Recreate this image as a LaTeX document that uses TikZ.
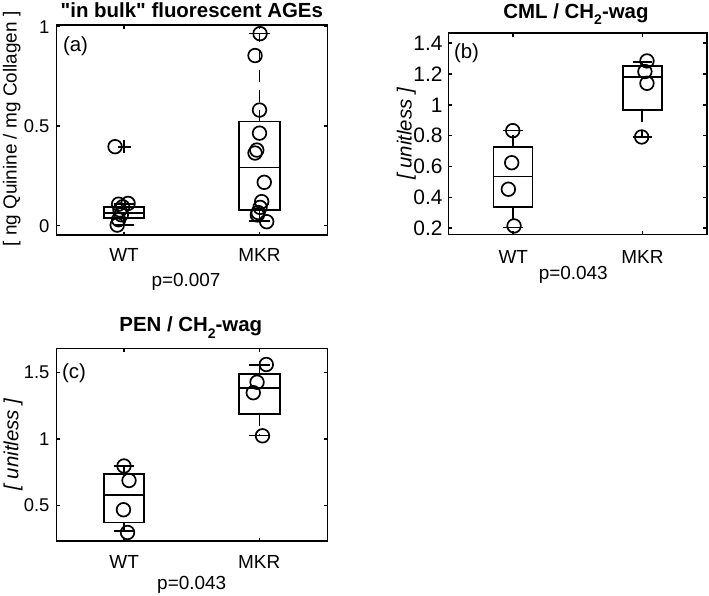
\documentclass[tikz,border=0pt]{standalone}
\usepackage{fontspec}
\setmainfont{Liberation Sans}
\newcommand{\bxplot}[6]{%
  \draw[whisk] (#1,#3) -- (#1,#2);
  \draw[whisk] (#1,#5) -- (#1,#6);
  \draw (#1-0.075,#2) -- (#1+0.075,#2) (#1-0.075,#6) -- (#1+0.075,#6);
  \draw (#1-0.15,#3) rectangle (#1+0.15,#5) (#1-0.15,#4) -- (#1+0.15,#4);
}
\newcommand{\axframe}[3]{%
  \draw[axline] (0.5,#1) rectangle (2.5,#2);
  \foreach \t in {#3} \draw[axline] (0.5,\t) -- ++(3.5bp,0) (2.5,\t) -- ++(-3.5bp,0);
  \foreach \t in {1,2} \draw[axline] (\t,#1) -- ++(0,3.5bp) (\t,#2) -- ++(0,-3.5bp);
}
\newcommand{\subtwo}{\raisebox{-6.5bp}{\fontsize{14}{14}\selectfont 2}}
\begin{document}
\begin{tikzpicture}[x=1bp,y=1bp,line width=1.7bp,
    font=\fontsize{19}{22}\selectfont,
    whisk/.style={dash pattern=on 12bp off 8bp},
    axline/.style={line width=1.5bp},
    ticklab/.style={anchor=east,inner sep=0pt,xshift=-6bp,font=\fontsize{18.5}{22}\selectfont},
    lab/.style={anchor=base,inner sep=0pt},
    plab/.style={anchor=base,inner sep=0pt,font=\fontsize{20.5}{24}\selectfont},
    ttl/.style={anchor=base,inner sep=0pt,font=\fontsize{20.5}{24}\selectfont\bfseries},
    ylab/.style={anchor=base,inner sep=0pt,rotate=90}]
    \useasboundingbox (0,0) rectangle (709,596);

    \begin{scope}[xshift=-11.5bp,yshift=370.3bp,x=135.5bp,y=199bp]
        \axframe{-0.047}{1.008}{0,0.5,1}
        \foreach \t/\l [count=\k] in {0/0,0.5/0.5,1/1} \node[ticklab] (ya\k) at (0.5,\t) {\l};
        \bxplot{1}{0.003}{0.037}{0.065}{0.095}{0.11}
        \bxplot{2}{0.022}{0.079}{0.293}{0.523}{0.965}
        \draw (1,0.397) +(-6.5bp,0) -- +(6.5bp,0) +(0,-6.5bp) -- +(0,6.5bp);
        \foreach \x/\y in {0.96/0.108,1.03/0.112,0.99/0.095,0.97/0.079,0.98/0.055,0.96/0.03,0.95/0.003,0.934/0.397,
            2.004/0.965,1.967/0.855,2.0/0.581,2.0/0.465,1.98/0.38,1.967/0.365,2.035/0.218,2.016/0.121,2.004/0.092,1.99/0.066,1.984/0.054,2.053/0.02}
            \draw (\x,\y) circle[radius=6.8bp];
    \end{scope}
    \node[plab] (pa) at (75.5,544) {(a)};
    \node[ttl] (ttla) at (191.8,578.7) {\textquotedbl in bulk\textquotedbl{} fluorescent AGEs};
    \node[ylab,font=\fontsize{19}{22}\selectfont] (ylaba) at (16.5,467) {[ ng Quinine / mg Collagen ]};
    \node[lab] (wta) at (124,334.3) {WT};
    \node[lab] (mkra) at (259.5,334.3) {MKR};
    \node[lab] (pva) at (186,309.3) {p=0.007};

    \begin{scope}[xshift=383.7bp,yshift=336.9bp,x=129.3bp,y=154.2bp]
        \axframe{0.161}{1.465}{0.2,0.4,0.6,0.8,1,1.2,1.4}
        \foreach \t/\l [count=\k] in {0.2/0.2,0.4/0.4,0.6/0.6,0.8/0.8,1/1,1.2/1.2,1.4/1.4}
            \node[ticklab,xshift=1bp,font=\fontsize{21}{24}\selectfont] (yb\k) at (0.5,\t) {\l};
        \bxplot{1}{0.204}{0.336}{0.535}{0.729}{0.833}
        \bxplot{2}{0.792}{0.967}{1.183}{1.25}{1.28}
        \foreach \x/\y in {0.998/0.833,0.99/0.625,0.964/0.453,1.008/0.215,2.036/1.285,2.02/1.216,2.036/1.14,1.995/0.792}
            \draw (\x,\y) circle[radius=6.8bp];
    \end{scope}
    \node[plab] (pb) at (466.5,537) {(b)};
    \node[ttl] (ttlb) at (576,577.7) {CML / CH\subtwo-wag};
    \node[ylab,font=\fontsize{20.5}{24}\selectfont\itshape] (ylabb) at (411.7,462) {[ unitless ]};
    \node[lab] (wtb) at (513.3,332.7) {WT};
    \node[lab] (mkrb) at (642.5,332.7) {MKR};
    \node[lab] (pvb) at (573.3,316) {p=0.043};

    \begin{scope}[xshift=-11.5bp,yshift=24bp,x=135.5bp,y=133bp]
        \axframe{0.233}{1.682}{0.5,1,1.5}
        \foreach \t/\l [count=\k] in {0.5/0.5,1/1,1.5/1.5} \node[ticklab] (yc\k) at (0.5,\t) {\l};
        \bxplot{1}{0.308}{0.372}{0.579}{0.737}{0.797}
        \bxplot{2}{1.026}{1.19}{1.385}{1.489}{1.556}
        \foreach \x/\y in {1.0/0.797,1.037/0.688,0.996/0.468,1.026/0.297,2.05/1.56,1.982/1.427,1.954/1.348,2.022/1.024}
            \draw (\x,\y) circle[radius=6.8bp];
    \end{scope}
    \node[plab] (pc) at (74,217) {(c)};
    \node[ttl] (ttlc) at (190.8,264.3) {PEN / CH\subtwo-wag};
    \node[ylab,font=\fontsize{20.5}{24}\selectfont\itshape] (ylabc) at (18.3,151.5) {[ unitless ]};
    \node[lab] (wtc) at (124.2,27.7) {WT};
    \node[lab] (mkrc) at (259.2,27.7) {MKR};
    \node[lab] (pvc) at (191.7,6) {p=0.043};
\end{tikzpicture}
\end{document}
